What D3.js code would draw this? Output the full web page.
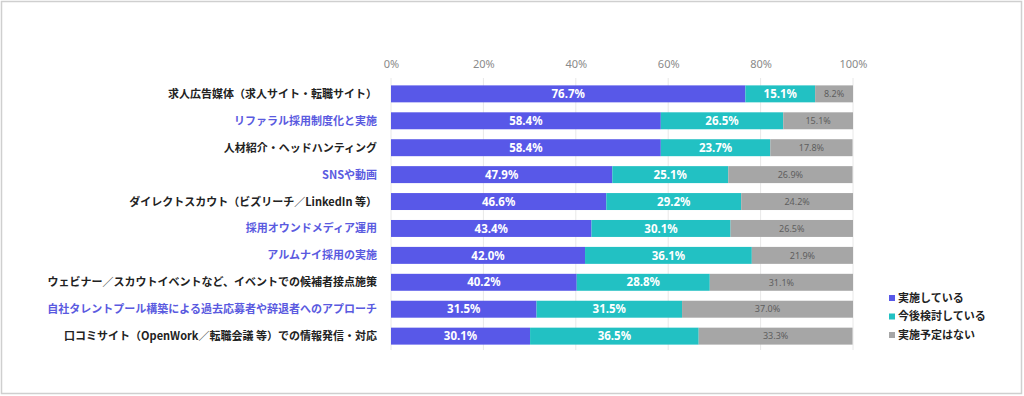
<!DOCTYPE html>
<html>
<head>
<meta charset="utf-8">
<script src="https://cdn.jsdelivr.net/npm/d3@7"></script>
<style>
  html, body { margin: 0; padding: 0; background: #fff; }
  svg { display: block; font-family: "Noto Sans CJK JP", "Noto Sans", sans-serif; }
</style>
</head>
<body>
<div class="chart"></div>
<script>
// 施策カテゴリ
const categories = [
  "求人広告媒体（求人サイト・転職サイト）",
  "リファラル採用制度化と実施",
  "人材紹介・ヘッドハンティング",
  "SNSや動画",
  "ダイレクトスカウト（ビズリーチ／LinkedIn 等）",
  "採用オウンドメディア運用",
  "アルムナイ採用の実施",
  "ウェビナー／スカウトイベントなど、イベントでの候補者接点施策",
  "自社タレントプール構築による過去応募者や辞退者へのアプローチ",
  "口コミサイト（OpenWork／転職会議 等）での情報発信・対応"
];
// 青字のラベル
const highlighted = [false, true, false, true, false, true, true, false, true, false];

const seriesNames = ["実施している", "今後検討している", "実施予定はない"];
const doing = [76.7, 58.4, 58.4, 47.9, 46.6, 43.4, 42.0, 40.2, 31.5, 30.1];
const considering = [15.1, 26.5, 23.7, 25.1, 29.2, 30.1, 36.1, 28.8, 31.5, 36.5];
const notPlanned = [8.2, 15.1, 17.8, 26.9, 24.2, 26.5, 21.9, 31.1, 37.0, 33.3];
const tickValues = [0, 20, 40, 60, 80, 100];

const width = 1024, height = 396;
const colors = ["#5858e8", "#22c1c3", "#a6a6a6"];

const svg = d3.select('.chart').append('svg').attr('width', width).attr('height', height);

// 外枠
svg.append('rect')
  .attr('x', 1.5).attr('y', 1.5)
  .attr('width', width - 4).attr('height', height - 4)
  .attr('fill', 'none').attr('stroke', '#cfcfcf').attr('stroke-width', 1.5);

const xScale = d3.scaleLinear().domain([0, 100]).range([391, 853]);
const yScale = d3.scaleBand().domain(d3.range(categories.length)).range([80, 350]).paddingInner(0.37).paddingOuter(0.2);

// グリッド線
svg.append('g').selectAll('line')
  .data(tickValues)
  .join('line')
  .attr('x1', d => xScale(d)).attr('x2', d => xScale(d))
  .attr('y1', 78).attr('y2', 350)
  .attr('stroke', '#e8e8e8').attr('stroke-width', 1);

// 目盛ラベル
const xAxis = d3.axisTop(xScale).tickValues(tickValues).tickSize(0).tickPadding(0).tickFormat(d => d + '%');
svg.append('g')
  .attr('transform', 'translate(0,68)')
  .call(xAxis)
  .call(g => g.select('.domain').remove())
  .call(g => g.selectAll('text').attr('fill', '#8a8a8a').style('font-size', '11px').style('font-family', '"Noto Sans", sans-serif'));

// 積み上げデータ
const rows = categories.map((c, i) => ({ i: i, v: [doing[i], considering[i], notPlanned[i]] }));
const segs = [];
rows.forEach(r => {
  let acc = 0;
  r.v.forEach((v, k) => {
    segs.push({ i: r.i, k: k, x0: acc, x1: Math.min(100, acc + v), v: v });
    acc += v;
  });
});

svg.append('g').selectAll('rect')
  .data(segs)
  .join('rect')
  .attr('x', d => xScale(d.x0))
  .attr('width', d => xScale(d.x1) - xScale(d.x0))
  .attr('y', d => yScale(d.i))
  .attr('height', yScale.bandwidth())
  .attr('fill', d => colors[d.k]);

svg.append('g').selectAll('text')
  .data(segs)
  .join('text')
  .attr('x', d => (xScale(d.x0) + xScale(d.x1)) / 2)
  .attr('y', d => yScale(d.i) + yScale.bandwidth() / 2)
  .attr('dy', '0.36em')
  .attr('text-anchor', 'middle')
  .attr('fill', d => d.k == 2 ? '#5e5e5e' : '#fff')
  .style('font-size', d => d.k == 2 ? '9px' : '11.5px')
  .style('font-weight', d => d.k == 2 ? 'normal' : 'bold')
  .style('font-family', '"Noto Sans", sans-serif')
  .text(d => d.v.toFixed(1) + '%');

// カテゴリラベル
svg.append('g').selectAll('text')
  .data(categories)
  .join('text')
  .attr('x', 377)
  .attr('y', (d, i) => yScale(i) + yScale.bandwidth() / 2)
  .attr('dy', '0.36em')
  .attr('text-anchor', 'end')
  .attr('fill', (d, i) => highlighted[i] ? '#5a5ae0' : '#222')
  .style('font-size', '11px')
  .style('font-weight', 'bold')
  .text(d => d);

// 凡例
const legend = svg.append('g').attr('transform', 'translate(889,298)');
const li = legend.selectAll('g')
  .data(seriesNames)
  .join('g')
  .attr('transform', (d, i) => 'translate(0,' + (i * 18.5) + ')');
li.append('rect')
  .attr('x', 0).attr('y', -3).attr('width', 6).attr('height', 6)
  .attr('fill', (d, i) => colors[i]);
li.append('text')
  .attr('x', 9).attr('y', 0).attr('dy', '0.36em')
  .attr('fill', '#222')
  .style('font-size', '11px')
  .style('font-weight', 'bold')
  .text(d => d);
</script>
</body>
</html>
